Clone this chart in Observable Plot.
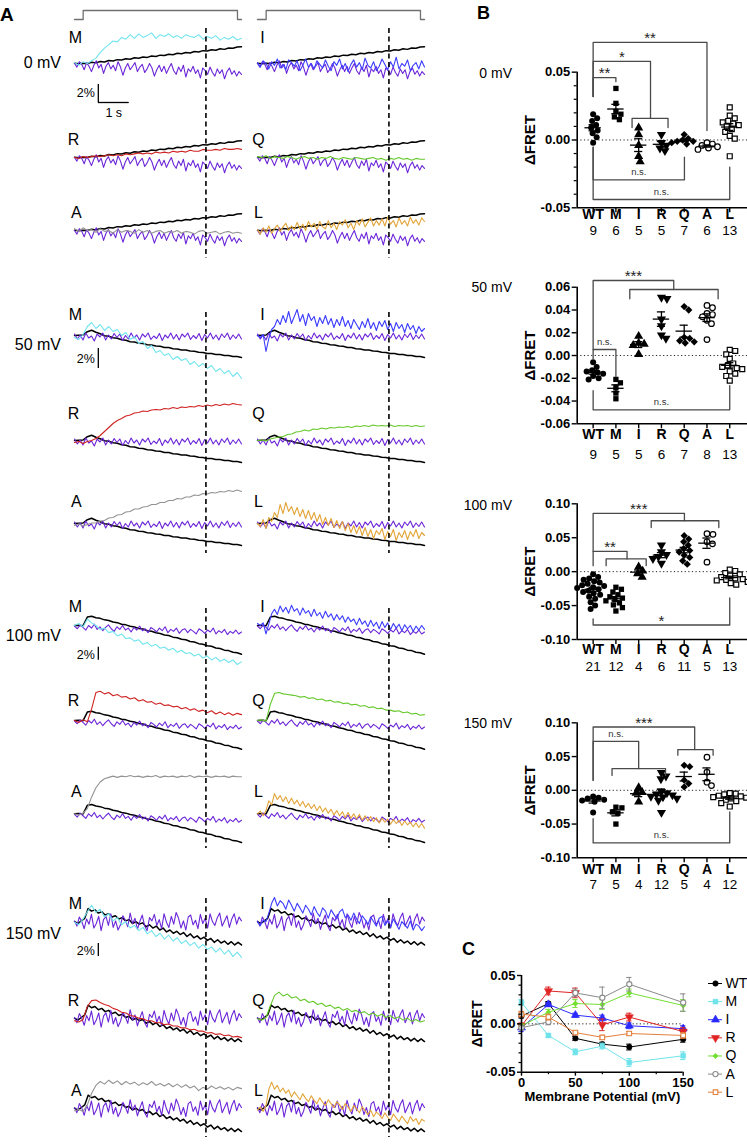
<!DOCTYPE html>
<html>
<head>
<meta charset="utf-8">
<script src="https://cdn.jsdelivr.net/npm/d3@7"></script>
<script src="https://cdn.jsdelivr.net/npm/@observablehq/plot@0.6"></script>
<style>
html, body { margin: 0; padding: 0; background: #fff; }
#page { position: relative; width: 747px; height: 1145px; overflow: hidden; background: #fff;
  font-family: "Liberation Sans", Arial, Helvetica, sans-serif; color: #000; }
.box { position: absolute; }
.box svg { display: block; overflow: visible; }
.lbl { position: absolute; white-space: nowrap; line-height: 1; }
</style>
</head>
<body>
<div id="page"></div>
<script>
// ================= DATA =================
const genotypes = ["WT", "M", "I", "R", "Q", "A", "L"];
const voltageLabels = ["0 mV", "50 mV", "100 mV", "150 mV"];
const traceDuration = 5.4;              // s
const dashTime = 4.25;                  // s
const stimTime = [0, 0.28, 0.28, 5.27, 5.27, 5.4];
const stimLevel = [0, 0, 1, 1, 0, 0];

// ---- Panel A traces (% change) ----
// 0 mV
const wt0 = [0.02,-0.04,0.03,0.0,0.13,0.07,0.23,0.16,0.33,0.27,0.43,0.38,0.53,0.47,0.63,0.58,0.72,0.68,0.83,0.78,0.93,0.88,1.03,0.98,1.13,1.08,1.23,1.17,1.33,1.28,1.43,1.38,1.53,1.48,1.63,1.57,1.73,1.69,1.83,1.86];
const ctrl0 = [0.0,-0.4,0.2,-0.1,-0.7,0.1,-0.3,-0.9,-0.2,0.3,-0.5,-0.1,-1.1,-0.3,0.1,-0.6,-0.2,-0.8,0.2,-0.4,-1.3,-0.5,0.0,-0.7,-0.3,0.1,-0.9,-0.4,-0.1,-1.0,-0.6,0.0,-0.5,-1.4,-0.7,-0.2,-0.9,-0.3,-1.1,-0.5,0.0,-0.8,-1.2,-0.4,-0.9,-0.2,-1.5,-0.6,-0.9,-0.3,-1.1,-0.7,-1.6,-0.5,-0.8,-1.2,-0.4,-1.0,-1.4,-0.6,-1.1,-0.7,-1.7,-0.9,-0.5,-1.2,-0.8,-1.4,-0.9,-1.2];
const m0 = [0.1,-0.2,0.2,0.0,0.3,0.6,1.2,1.7,2.1,2.5,2.4,2.9,2.7,3.2,2.8,3.3,2.9,3.1,3.4,2.8,3.2,3.0,3.3,2.9,3.1,2.8,3.2,3.0,2.9,3.2,2.7,3.0,2.8,3.1,2.6,2.9,2.7,3.0,2.6,2.8];
const r0 = [0.0,-0.1,0.1,0.0,0.1,0.2,0.1,0.2,0.3,0.2,0.3,0.2,0.4,0.3,0.4,0.5,0.4,0.5,0.4,0.6,0.5,0.6,0.5,0.7,0.6,0.7,0.6,0.8,0.7,0.7,0.9,0.8,0.8,0.9,0.8,1.0,0.9,0.9,1.0,0.9];
const a0 = [0.2,-0.1,0.3,0.0,0.1,-0.2,0.2,-0.1,0.0,-0.3,0.1,-0.2,0.0,-0.1,-0.3,0.1,-0.2,0.0,-0.3,-0.1,0.0,-0.3,-0.1,-0.2,0.0,-0.3,-0.1,-0.2,-0.4,-0.1,0.0,-0.3,-0.2,-0.1,-0.4,-0.2,-0.1,-0.3,-0.2,-0.3];
const i0 = [0.1,-0.4,0.3,0.0,-0.6,0.2,-0.2,0.5,-0.5,-0.1,-0.7,0.4,0.1,-0.3,0.3,-0.8,-0.2,0.5,-0.4,0.0,-0.6,0.3,-0.1,-0.5,0.4,-0.3,-0.8,0.2,-0.2,0.5,-0.6,0.0,-0.9,-0.1,0.4,-0.4,0.1,-0.7,0.6,-0.2,-0.5,0.2,-0.8,-0.3,0.5,-0.1,-0.7,0.2,-0.4,0.7,-0.6,0.0,-0.3,0.4,-0.8,-0.2,0.1,-0.6,0.3,-0.4];
const q0 = [0.1,0.0,0.2,-0.1,0.1,0.0,-0.1,0.1,0.0,-0.2,0.0,0.1,-0.1,0.0,-0.2,0.0,-0.1,0.1,-0.1,-0.2,0.0,-0.1,-0.2,0.0,-0.1,-0.2,-0.1,0.0,-0.2,-0.1,-0.3,-0.1,-0.2,0.0,-0.2,-0.1,-0.3,-0.1,-0.2,-0.2];
const l0 = [0.1,-0.4,0.3,-0.2,0.5,-0.3,0.2,0.6,-0.1,0.4,0.8,0.0,0.5,0.1,0.9,0.2,0.7,0.0,1.0,0.4,0.8,0.1,1.0,0.4,0.2,1.1,0.3,0.8,0.1,1.0,0.6,1.2,0.3,0.8,0.1,1.1,0.6,1.3,0.4,0.9,1.4,0.5,1.1,0.6,1.3,0.5,1.5,0.7,1.1,0.4,1.4,0.7,1.1,0.5,1.5,0.8,1.2,0.6,1.4,1.0];
// 50 mV
const wt50 = [0.0,0.03,0.05,0.38,0.52,0.33,0.17,-0.02,-0.08,-0.22,-0.28,-0.42,-0.47,-0.62,-0.65,-0.77,-0.8,-0.92,-0.95,-1.06,-1.08,-1.19,-1.21,-1.32,-1.34,-1.44,-1.46,-1.56,-1.58,-1.68,-1.7,-1.8,-1.81,-1.9,-1.91,-2.0,-2.01,-2.1,-2.1,-2.19];
const ctrl50 = [0.15,-0.35,0.05,-0.45,0.25,-0.25,-0.05,-0.55,0.15,-0.15,0.25,-0.45,0.05,-0.35,0.2,-0.2,0.15,-0.5,0.0,-0.35,0.25,-0.25,0.05,-0.45,0.15,-0.15,0.25,-0.4,-0.05,-0.3,0.2,-0.5,0.05,-0.25,0.25,-0.35,0.1,-0.45,0.15,-0.15,0.25,-0.4,0.0,-0.3,0.2,-0.5,0.1,-0.25,0.25,-0.35,0.05,-0.45,0.15,-0.2,0.25,-0.4,0.05,-0.3,0.15,-0.35];
const m50 = [-0.2,-0.4,0.1,0.9,1.3,0.7,1.1,0.5,0.9,0.4,0.6,0.0,0.3,-0.4,-0.1,-0.8,-0.6,-1.3,-1.0,-1.7,-1.5,-2.0,-1.8,-2.4,-2.1,-2.5,-2.3,-2.9,-2.6,-3.1,-2.8,-3.3,-3.0,-3.6,-3.3,-3.8,-3.5,-4.1,-3.7,-4.3];
const r50 = [-0.2,-0.1,-0.3,-0.1,0.0,0.2,0.5,0.9,1.3,1.7,2.0,2.2,2.45,2.55,2.75,2.8,2.95,2.9,3.05,3.1,3.05,3.2,3.15,3.3,3.2,3.35,3.3,3.4,3.35,3.5,3.4,3.55,3.45,3.6,3.5,3.65,3.55,3.7,3.6,3.55];
const a50 = [-0.2,-0.05,-0.25,-0.1,0.05,0.05,0.25,0.3,0.55,0.6,0.85,0.9,1.15,1.2,1.45,1.45,1.65,1.7,1.9,1.9,2.1,2.1,2.3,2.3,2.5,2.45,2.65,2.65,2.85,2.8,3.0,2.95,3.1,3.05,3.2,3.15,3.3,3.2,3.35,3.2];
const i50 = [0.0,-0.2,0.1,-1.6,-0.3,0.6,0.9,1.6,1.1,2.0,1.3,2.4,1.2,1.9,2.6,1.4,2.1,1.0,2.2,1.5,1.9,0.9,1.8,1.2,2.0,1.1,1.7,0.8,1.6,1.0,1.9,0.9,1.5,0.7,1.6,1.1,0.6,1.4,0.8,1.7,0.7,1.3,0.5,1.4,0.9,1.5,0.6,1.2,0.4,1.3,0.7,1.1,0.3,1.2,0.6,1.0,0.2,0.9,0.4,0.7];
const q50 = [0.0,0.05,-0.05,0.15,0.25,0.35,0.4,0.6,0.65,0.85,0.9,1.05,0.95,1.15,1.1,1.25,1.15,1.3,1.25,1.35,1.3,1.4,1.3,1.45,1.4,1.5,1.4,1.55,1.45,1.5,1.45,1.55,1.4,1.5,1.45,1.5,1.4,1.5,1.4,1.45];
const l50 = [0.0,-0.3,0.4,-0.5,0.6,0.2,1.1,0.6,1.9,1.0,2.1,1.2,1.7,0.9,1.6,0.7,1.4,0.5,1.3,0.4,1.1,0.2,0.9,-0.1,0.6,-0.2,0.5,-0.4,0.3,-0.5,0.2,-0.7,0.0,-0.9,-0.2,-1.0,-0.3,-1.2,-0.4,-1.3,-0.6,-1.5,-0.7,-1.1,-0.5,-1.6,-0.8,-1.3,-0.6,-1.7,-0.9,-1.4,-0.7,-1.6,-0.8,-1.3,-0.6,-1.5,-0.9,-1.2];
// 100 mV
const wt100 = [0.0,0.05,-0.02,1.3,1.42,1.2,1.1,0.87,0.78,0.54,0.44,0.2,0.1,-0.12,-0.22,-0.46,-0.55,-0.8,-0.88,-1.12,-1.22,-1.46,-1.55,-1.79,-1.88,-2.12,-2.2,-2.46,-2.54,-2.79,-2.88,-3.12,-3.2,-3.45,-3.54,-3.79,-3.86,-4.12,-4.2,-4.42];
const ctrl100 = [-0.1,-0.5,0.1,-0.3,-0.7,0.0,-0.4,0.2,-0.6,-0.2,-0.8,-0.3,0.1,-0.5,-0.9,-0.2,-0.6,0.0,-0.7,-0.4,-1.0,-0.3,-0.7,-0.1,-0.8,-0.5,-1.1,-0.3,-0.6,-1.0,-0.4,-0.8,-0.2,-1.1,-0.6,-0.9,-0.4,-1.2,-0.7,-0.5,-1.1,-0.6,-0.9,-1.3,-0.5,-0.8,-1.2,-0.7,-1.0,-0.4,-1.3,-0.8,-1.1,-0.6,-1.4,-0.9,-1.2,-0.7,-1.3,-1.0];
const m100 = [0.0,0.3,-0.2,1.0,0.4,0.0,-0.6,-0.4,-1.1,-0.9,-1.6,-1.3,-2.0,-1.9,-2.4,-2.2,-2.9,-2.6,-3.2,-2.9,-3.5,-3.3,-3.8,-3.5,-4.1,-3.8,-4.3,-4.2,-4.7,-4.4,-5.0,-4.7,-5.3,-4.9,-5.5,-5.2,-5.7,-5.3,-6.0,-5.6];
const r100 = [0.0,-0.3,0.1,-0.2,1.8,4.3,4.5,4.1,4.3,3.8,4.0,3.6,3.7,3.3,3.5,3.0,3.2,2.8,2.9,2.5,2.7,2.3,2.4,2.1,2.2,1.8,2.0,1.6,1.8,1.4,1.6,1.2,1.5,1.0,1.3,0.9,1.2,0.8,1.1,0.9];
const a100 = [0.0,-0.2,0.1,0.8,2.6,4.0,4.9,5.4,5.6,5.8,5.6,5.8,5.7,5.9,5.7,5.8,5.6,5.8,5.7,5.9,5.6,5.8,5.7,5.8,5.6,5.8,5.7,5.9,5.6,5.8,5.7,5.8,5.6,5.8,5.7,5.8,5.6,5.8,5.7,5.7];
const i100 = [0.3,0.0,0.4,-1.3,0.2,1.8,2.5,1.7,3.0,2.1,2.8,1.9,3.1,2.2,2.6,1.6,2.7,1.9,2.3,1.4,2.5,1.5,2.0,1.1,2.2,1.3,1.8,0.8,1.7,0.9,1.5,0.5,1.3,0.6,1.0,0.1,1.1,0.2,0.7,-0.2,0.8,-0.1,0.5,-0.5,0.6,-0.3,0.4,-0.6,0.3,-0.4,0.2,-0.8,0.1,-0.5,0.0,-0.9,-0.1,-0.7,0.0,-0.6];
const q100 = [0.0,0.1,-0.1,2.5,4.2,4.3,4.1,4.0,3.9,3.8,3.6,3.7,3.4,3.5,3.2,3.3,3.0,3.1,2.8,2.9,2.6,2.7,2.4,2.5,2.2,2.3,2.0,2.1,1.8,1.9,1.6,1.6,1.4,1.5,1.2,1.3,1.0,1.1,0.8,0.9];
const l100 = [0.0,0.4,-0.3,0.5,2.0,1.4,3.1,2.2,2.8,1.9,2.6,1.6,2.4,1.5,2.1,1.2,1.9,1.0,1.6,0.8,1.4,0.5,1.2,0.3,0.9,0.1,0.7,-0.2,0.5,-0.3,0.3,-0.6,0.2,-0.7,0.0,-0.8,-0.1,-1.0,-0.3,-1.1,-0.4,-1.2,-0.6,-1.4,-0.7,-1.3,-0.8,-1.6,-0.9,-1.5,-1.0,-1.8,-1.1,-1.7,-1.3,-2.0,-1.4,-2.1,-1.5,-2.2];
// 150 mV
const wt150 = [0.1,-0.2,0.2,0.6,2.1,1.7,1.9,1.4,1.6,1.1,1.3,0.8,1.0,0.5,0.7,0.2,0.4,-0.2,0.1,-0.3,-0.1,-0.7,-0.4,-0.9,-0.6,-1.2,-0.9,-1.5,-1.2,-1.7,-1.4,-1.9,-1.6,-2.2,-1.8,-2.4,-2.1,-2.6,-2.3,-2.8,-2.5,-3.1,-2.7,-3.2,-2.9,-3.4,-3.0,-3.5,-3.1,-3.5];
const ctrl150 = [0.2,-0.6,0.8,0.1,-1.0,0.5,-0.3,1.2,-0.9,-0.2,0.9,-1.3,0.4,0.9,-0.5,1.3,-0.8,0.2,-1.2,-0.4,1.0,0.3,-0.7,1.4,-0.2,0.6,-1.1,0.1,1.1,-0.6,-1.3,0.7,0.2,1.2,-0.5,0.4,-1.0,1.3,0.0,-0.8,0.9,-0.3,1.5,0.6,-0.9,0.2,-1.2,0.8,1.1,-0.4,0.3,-1.0,1.2,-0.2,0.6,-0.9,1.3,0.1,-0.5,0.7,1.4,-0.6,0.2,1.0,-0.8,0.5,1.3,-0.3,0.8,0.2];
const m150 = [0.0,-0.4,0.5,1.6,2.6,1.5,2.0,0.8,1.3,0.2,0.7,-0.4,0.1,-0.9,-0.5,-1.3,-0.8,-1.8,-1.3,-2.2,-1.7,-2.6,-2.0,-2.9,-2.4,-3.3,-2.8,-3.6,-3.1,-4.0,-3.4,-4.2,-3.8,-4.6,-4.0,-4.9,-4.3,-5.3,-4.6,-5.4];
const r150 = [-0.3,-0.5,-0.1,1.9,2.8,2.9,2.5,2.2,2.0,1.6,1.4,1.0,0.9,0.5,0.4,0.1,0.0,-0.3,-0.3,-0.6,-0.6,-0.9,-0.8,-1.1,-1.1,-1.4,-1.4,-1.7,-1.6,-1.9,-1.9,-2.2,-2.1,-2.4,-2.3,-2.6,-2.5,-2.8,-2.7,-2.9];
const a150 = [-0.3,-0.1,-0.4,0.6,2.4,3.6,4.2,3.8,4.4,3.9,4.3,3.7,4.2,3.8,4.1,3.6,4.0,3.7,4.2,3.6,3.9,3.5,3.9,3.4,3.8,3.3,3.7,3.2,3.5,2.8,3.3,3.0,3.5,3.1,3.4,3.0,3.3,2.9,3.3,3.1];
const i150 = [0.0,-0.5,0.3,0.1,1.4,2.9,3.8,2.5,3.3,2.9,2.0,3.4,2.6,1.7,2.9,2.2,1.4,2.6,2.0,1.1,2.4,1.5,0.9,2.2,1.7,0.6,1.9,1.2,0.5,1.6,2.0,0.7,1.1,0.3,1.4,0.5,-0.2,1.0,0.4,-0.4,0.8,0.1,-0.6,0.6,0.9,-0.5,0.2,-0.8,0.5,-0.3,-1.1,0.1,-0.4,-0.9,0.2,-1.2,-0.3,-0.6,-1.3,-0.7];
const q150 = [0.0,-0.2,0.2,2.0,3.6,4.1,3.5,3.8,3.2,3.4,2.8,3.0,2.5,2.7,2.2,2.4,1.9,2.1,1.6,1.8,1.3,1.6,1.1,1.3,0.9,1.1,0.6,0.9,0.4,0.7,0.2,0.5,0.0,0.3,-0.2,0.1,-0.4,-0.1,-0.5,-0.3];
const l150 = [-0.2,0.3,-0.4,0.5,3.0,4.1,3.0,3.6,2.6,3.2,2.4,2.9,1.8,2.6,2.0,1.4,2.3,1.6,1.1,2.0,1.3,0.8,1.7,1.0,0.5,1.4,0.8,0.2,1.1,0.6,-0.1,0.8,0.3,-0.4,0.5,0.0,-0.6,0.3,-0.3,-0.9,-0.2,-1.2,-0.5,-0.9,-1.5,-0.6,-1.3,-1.8,-0.8,-1.4,-2.0,-1.1,-1.7,-2.3,-1.2,-1.9,-1.5,-2.4,-1.6,-1.9];

// ---- Panel B: ΔFRET per cell, in genotype order ----
const fret0 = [
  [0.019, 0.016, 0.014, 0.011, 0.009, 0.007, 0.005, 0.002, -0.002],
  [0.038, 0.027, 0.021, 0.019, 0.017, 0.015],
  [0.009, 0.004, -0.004, -0.012, -0.016],
  [0.004, -0.002, -0.004, -0.006, -0.008],
  [0.004, 0.001, 0.0, -0.001, -0.001, -0.002, -0.003],
  [-0.002, -0.003, -0.004, -0.005, -0.006, -0.007],
  [0.024, 0.018, 0.016, 0.014, 0.013, 0.012, 0.011, 0.010, 0.008, 0.006, 0.003, 0.001, -0.012]
];
const fret50 = [
  [-0.006, -0.010, -0.013, -0.014, -0.015, -0.016, -0.018, -0.020, -0.021],
  [-0.021, -0.024, -0.028, -0.033, -0.038],
  [0.017, 0.011, 0.010, 0.009, 0.001],
  [0.051, 0.050, 0.032, 0.026, 0.018, 0.015],
  [0.043, 0.040, 0.016, 0.015, 0.013, 0.012, 0.011],
  [0.044, 0.042, 0.037, 0.036, 0.034, 0.031, 0.028, 0.014],
  [0.005, 0.004, 0.001, -0.003, -0.007, -0.009, -0.010, -0.011, -0.012, -0.014, -0.016, -0.018, -0.022]
];
const fret100 = [
  [-0.004, -0.008, -0.010, -0.012, -0.014, -0.016, -0.018, -0.020, -0.021, -0.023, -0.024, -0.026, -0.028, -0.030, -0.032, -0.034, -0.037, -0.040, -0.045, -0.050, -0.055],
  [-0.023, -0.026, -0.030, -0.034, -0.037, -0.039, -0.041, -0.043, -0.046, -0.049, -0.053, -0.058],
  [0.007, 0.001, -0.003, -0.008],
  [0.039, 0.029, 0.025, 0.022, 0.019, 0.012],
  [0.053, 0.048, 0.044, 0.039, 0.034, 0.031, 0.029, 0.024, 0.021, 0.016, 0.011],
  [0.056, 0.055, 0.044, 0.041, 0.014],
  [0.003, 0.001, -0.002, -0.004, -0.006, -0.008, -0.010, -0.011, -0.012, -0.013, -0.015, -0.017, -0.019]
];
const fret150 = [
  [-0.009, -0.011, -0.012, -0.014, -0.015, -0.017, -0.033],
  [-0.025, -0.026, -0.032, -0.034, -0.050],
  [0.004, -0.003, -0.004, -0.017],
  [0.026, 0.021, 0.017, -0.002, -0.004, -0.006, -0.007, -0.009, -0.010, -0.012, -0.015, -0.033],
  [0.037, 0.035, 0.015, 0.010, 0.005],
  [0.049, 0.027, 0.012, 0.007],
  [-0.004, -0.005, -0.006, -0.008, -0.009, -0.010, -0.011, -0.012, -0.014, -0.016, -0.019, -0.024]
];
// significance brackets: [from index, to index, bar level, left leg end, right leg end, label]
const sig0 = [[0,5,0.0719,0.032,0.007,"**"],[0,2.52,0.0579,0.032,0.0159,"*"],[1.71,3.29,0.0159,0.0092,0.0092,""],[0,1,0.046,0.032,0.043,"**"],[0,4.01,-0.0294,-0.0053,-0.0127,"n.s."],[0,6,-0.0439,-0.0053,-0.020,"n.s."]];
const sig50 = [[0,3.54,0.0659,0.0053,0.058,"***"],[1.61,5.49,0.058,0.0498,0.0498,""],[0,1,0.0053,-0.0029,-0.0185,"n.s."],[0,6,-0.0477,-0.0308,-0.0264,"n.s."]];
const sig100 = [[0,4.01,0.086,0.030,0.075,"***"],[2.55,5.52,0.075,0.065,0.065,""],[0,1.49,0.030,0.0088,0.0187,"**"],[0.57,2.33,0.0187,0.0088,0.0088,""],[0,6,-0.0786,-0.0698,-0.0388,"*"]];
const sig150 = [[0,4.46,0.0938,0.0148,0.0603,"***"],[3.72,5.27,0.0603,0.052,0.052,""],[0,2.0,0.0726,0.0148,0.032,"n.s."],[0.83,3.18,0.032,0.022,0.022,""],[0,6,-0.078,-0.042,-0.032,"n.s."]];

// ---- Panel C: mean ± SEM vs membrane potential ----
const cPotential = [0, 25, 50, 75, 100, 150];
const cMean = [
  [0.008, 0.021, -0.015, -0.021, -0.024, -0.016],
  [0.022, -0.012, -0.029, -0.023, -0.040, -0.033],
  [-0.004, 0.020, 0.009, 0.006, -0.002, -0.005],
  [-0.002, 0.034, 0.032, -0.001, 0.007, -0.008],
  [-0.002, 0.012, 0.021, 0.020, 0.032, 0.019],
  [-0.004, 0.002, 0.032, 0.027, 0.041, 0.022],
  [0.010, 0.007, -0.009, -0.014, -0.010, -0.012]
];
const cSem = [
  [0.002, 0.002, 0.002, 0.002, 0.003, 0.003],
  [0.003, 0.002, 0.003, 0.003, 0.004, 0.004],
  [0.004, 0.002, 0.002, 0.003, 0.003, 0.003],
  [0.003, 0.004, 0.005, 0.006, 0.004, 0.004],
  [0.002, 0.003, 0.004, 0.005, 0.004, 0.006],
  [0.002, 0.003, 0.004, 0.011, 0.007, 0.009],
  [0.003, 0.003, 0.002, 0.002, 0.002, 0.003]
];

// ================= RENDERING =================
const FONT = '"Liberation Sans", Arial, Helvetica, sans-serif';
const STYLE = {background: "transparent", fontFamily: FONT, overflow: "visible", color: "#000"};
const page = document.getElementById("page");
function place(node, left, top) {
  const d = document.createElement("div");
  d.className = "box"; d.style.left = left + "px"; d.style.top = top + "px";
  d.appendChild(node); page.appendChild(d);
}
function label(text, x, y, {size = 14, weight = "normal", anchor = "left"} = {}) {
  const d = document.createElement("div");
  d.className = "lbl"; d.textContent = text;
  d.style.fontSize = size + "px"; d.style.fontWeight = weight;
  d.style.left = x + "px"; d.style.top = y + "px";
  const tx = anchor === "left" ? "0" : anchor === "right" ? "-100%" : "-50%";
  d.style.transform = `translate(${tx},-50%)`;
  page.appendChild(d);
}

const PURPLE = "#6b26d8";
const traceColor = {M: "#72e4ee", R: "#cf2222", A: "#939393", I: "#3c3cff", Q: "#66c82c", L: "#e2a53a"};

const groupTraces = [
  {wt: wt0, ctrl: ctrl0, left: [m0, r0, a0], right: [i0, q0, l0]},
  {wt: wt50, ctrl: ctrl50, left: [m50, r50, a50], right: [i50, q50, l50]},
  {wt: wt100, ctrl: ctrl100, left: [m100, r100, a100], right: [i100, q100, l100]},
  {wt: wt150, ctrl: ctrl150, left: [m150, r150, a150], right: [i150, q150, l150]}
];
const groupLayout = [
  {k: 9,   base: [63, 157, 230],        top: 22,  bottom: 262,  dash: [28, 258],   lab: [-26, -18, -18],     bar: 84,    barLab: 92,  sec: 112, vy: 62.5},
  {k: 10,  base: [335, 440, 523],       top: 296, bottom: 560,  dash: [312, 553],  lab: [-21, -27, -22],     bar: 348,   barLab: 358, vy: 344.5},
  {k: 6.5, base: [625, 720, 813.3],     top: 592, bottom: 856,  dash: [608, 848],  lab: [-18.5, -20, -22],   bar: 646.7, barLab: 654, vy: 636},
  {k: 6.5, base: [921.7, 1018.3, 1108.3], top: 884, bottom: 1145, dash: [898, 1137], lab: [-18, -18, -18],  bar: 943,   barLab: 950, vy: 933.5}
];
const colNames = [["M", "R", "A"], ["I", "Q", "L"]];
const colBox = [{left: 0, width: 250, ml: 74, mr: 9}, {left: 250, width: 180, ml: 7, mr: 6}];
const labT = [[0.03, -0.03, 0.06], [0.16, 0.03, 0.03]];

function tracePlot(gi, col) {
  const L = groupLayout[gi], T = groupTraces[gi], B = colBox[col];
  const b0 = L.base[0];
  const toV = px => (b0 - px) / L.k;
  const off = L.base.map(b => toV(b));
  const names = colNames[col];
  const series = col === 0 ? T.left : T.right;
  const line = (arr, o, stroke, sw) => Plot.line(arr, {
    x: (d, i) => i * traceDuration / (arr.length - 1), y: d => d + o, stroke, strokeWidth: sw
  });
  const marks = [];
  names.forEach((n, r) => {
    marks.push(line(T.wt, off[r], "#000", 1.5));
    marks.push(line(T.ctrl, off[r], PURPLE, 1.1));
    marks.push(line(series[r], off[r], traceColor[n], 1.1));
  });
  marks.push(Plot.ruleX([dashTime], {y1: toV(L.dash[0]), y2: toV(L.dash[1]), stroke: "#000", strokeWidth: 1.6, strokeDasharray: "5,3.5"}));
  marks.push(Plot.text(names, {x: (d, i) => labT[col][i], y: (d, i) => off[i] - L.lab[i] / L.k, text: d => d, fontSize: 16, fill: "#000"}));
  if (col === 0) {
    const yb = toV(L.bar);
    marks.push(Plot.ruleX([0.77], {y1: yb, y2: yb - 2, stroke: "#000", strokeWidth: 1.3}));
    marks.push(Plot.text(["2%"], {x: 0.66, y: toV(L.barLab), textAnchor: "end", fontSize: 12.5, fill: "#000"}));
    if (L.sec) {
      marks.push(Plot.ruleY([yb - 2], {x1: 0.77, x2: 1.77, stroke: "#000", strokeWidth: 1.3}));
      marks.push(Plot.text(["1 s"], {x: 1.27, y: toV(L.sec), fontSize: 12.5, fill: "#000"}));
    }
  }
  const svg = Plot.plot({
    width: B.width, height: L.bottom - L.top,
    marginLeft: B.ml, marginRight: B.mr, marginTop: 0, marginBottom: 0,
    x: {domain: [0, traceDuration], axis: null},
    y: {domain: [toV(L.bottom), toV(L.top)], axis: null},
    style: STYLE, marks
  });
  place(svg, B.left, L.top);
}

function stimPlot(col) {
  const B = colBox[col];
  const svg = Plot.plot({
    width: B.width, height: 16, marginLeft: B.ml, marginRight: B.mr, marginTop: 0, marginBottom: 0,
    x: {domain: [0, traceDuration], axis: null},
    y: {domain: [0, 1], range: [12, 3], axis: null},
    style: STYLE,
    marks: [Plot.line(stimLevel, {x: (d, i) => stimTime[i], y: d => d, stroke: "#707070", strokeWidth: 1.3})]
  });
  place(svg, B.left, 7);
}

// ---- Panel B ----
const triDown = {
  draw(context, size) {
    const y = -Math.sqrt(size / (Math.sqrt(3) * 3));
    context.moveTo(0, -y * 2);
    context.lineTo(-Math.sqrt(3) * y, y);
    context.lineTo(Math.sqrt(3) * y, y);
    context.closePath();
  }
};
const dotStyle = [
  {symbol: "circle", r: 3, fill: "#000", stroke: "none", sw: 0},
  {symbol: "square", r: 3, fill: "#000", stroke: "none", sw: 0},
  {symbol: "triangle", r: 3.4, fill: "#000", stroke: "none", sw: 0},
  {symbol: triDown, r: 3.4, fill: "#000", stroke: "none", sw: 0},
  {symbol: "diamond2", r: 3.3, fill: "#000", stroke: "none", sw: 0},
  {symbol: "circle", r: 2.8, fill: "#fff", stroke: "#000", sw: 1.2},
  {symbol: "square", r: 2.8, fill: "#fff", stroke: "#000", sw: 1.2}
];
function swarm(values, pxPerY, diam) {
  const idx = values.map((v, i) => i).sort((a, b) => values[b] - values[a]);
  const placed = [], out = new Array(values.length).fill(0);
  for (const i of idx) {
    const py = values[i] * pxPerY;
    for (let k = 0; k < 400; k++) {
      const c = k === 0 ? 0 : (k % 2 ? 1 : -1) * Math.ceil(k / 2) * 0.5;
      if (placed.every(p => (p.x - c) ** 2 + (p.y - py) ** 2 >= diam * diam)) {
        out[i] = c; placed.push({x: c, y: py}); break;
      }
    }
  }
  return out;
}
const bLayout = [
  {vals: fret0, sig: sig0, top: 25, frameH: 182.3, yMin: -0.05, yMax: 0.0844, axisTop: 0.05, ticks: [-0.05, 0, 0.05], minor: true, labDy: 11, cntDy: 27.7, mb: 40, vy: 72.5},
  {vals: fret50, sig: sig50, top: 265, frameH: 158.3, yMin: -0.06, yMax: 0.0791, axisTop: 0.06, ticks: [-0.06, -0.04, -0.02, 0, 0.02, 0.04, 0.06], labDy: 15, cntDy: 35, mb: 45, vy: 287},
  {vals: fret100, sig: sig100, top: 497, frameH: 142, yMin: -0.1, yMax: 0.1093, axisTop: 0.1, ticks: [-0.1, -0.05, 0, 0.05, 0.1], labDy: 14.3, cntDy: 31, mb: 40, vy: 505},
  {vals: fret150, sig: sig150, top: 712, frameH: 145.3, yMin: -0.1, yMax: 0.1153, axisTop: 0.1, ticks: [-0.1, -0.05, 0, 0.05, 0.1], labDy: 16, cntDy: 31, mb: 40, vy: 723}
];
function bPlot(c) {
  const W = 297, ML = 126.7;
  const xDom = [-0.7, 6.78];
  const pxX = (W - ML) / (xDom[1] - xDom[0]);
  const pxY = c.frameH / (c.yMax - c.yMin);
  const marks = [];
  marks.push(Plot.ruleY([0], {x1: xDom[0], x2: xDom[1], stroke: "#222", strokeWidth: 1, strokeDasharray: "1.2,2.4"}));
  c.vals.forEach((vals, gi) => {
    const off = swarm(vals, pxY, 5.6);
    const pts = vals.map((v, j) => ({x: gi + off[j] / pxX, y: v}));
    const st = dotStyle[gi];
    marks.push(Plot.dot(pts, {x: "x", y: "y", symbol: st.symbol, r: st.r, fill: st.fill, stroke: st.stroke, strokeWidth: st.sw}));
  });
  const stats = c.vals.map((vals, gi) => ({gi, m: d3.mean(vals), s: d3.deviation(vals) / Math.sqrt(vals.length)}));
  marks.push(Plot.ruleY(stats, {y: "m", x1: d => d.gi - 0.36, x2: d => d.gi + 0.36, stroke: "#000", strokeWidth: 1.3}));
  marks.push(Plot.ruleX(stats, {x: "gi", y1: d => d.m - d.s, y2: d => d.m + d.s, stroke: "#000", strokeWidth: 1.3}));
  marks.push(Plot.ruleY(stats, {y: d => d.m + d.s, x1: d => d.gi - 0.18, x2: d => d.gi + 0.18, stroke: "#000", strokeWidth: 1.3}));
  marks.push(Plot.ruleY(stats, {y: d => d.m - d.s, x1: d => d.gi - 0.18, x2: d => d.gi + 0.18, stroke: "#000", strokeWidth: 1.3}));
  const br = c.sig.flatMap((s, k) => [{k, x: s[0], y: s[3]}, {k, x: s[0], y: s[2]}, {k, x: s[1], y: s[2]}, {k, x: s[1], y: s[4]}]);
  marks.push(Plot.line(br, {x: "x", y: "y", z: "k", stroke: "#4a4a4a", strokeWidth: 1.3}));
  const stars = c.sig.filter(s => s[5] && s[5] !== "n.s.");
  const ns = c.sig.filter(s => s[5] === "n.s.");
  marks.push(Plot.text(stars, {x: s => (s[0] + s[1]) / 2, y: s => s[2], text: s => s[5], dy: -4, fontSize: 15, fill: "#222"}));
  marks.push(Plot.text(ns, {x: s => (s[0] + s[1]) / 2, y: s => s[2], text: s => s[5], dy: -7.5, fontSize: 9.5, fill: "#333"}));
  // axes
  marks.push(Plot.ruleX([xDom[0]], {y1: c.yMin, y2: c.axisTop, stroke: "#000", strokeWidth: 1.6}));
  marks.push(Plot.ruleY([c.yMin], {x1: xDom[0], x2: xDom[1], stroke: "#000", strokeWidth: 1.6}));
  marks.push(Plot.axisY({ticks: c.ticks, tickSize: 5, tickPadding: 2, tickFormat: d => d.toFixed(2), fontSize: 13, fontWeight: "bold", strokeWidth: 1.4, label: null}));
  if (c.minor) {
    const minor = d3.range(-4, 5).filter(v => v !== 0).map(v => v / 100);
    marks.push(Plot.axisY({ticks: minor, tickSize: 3, tickFormat: () => "", strokeWidth: 1.2, label: null}));
  }
  marks.push(Plot.axisX({ticks: d3.range(7), tickSize: 5, tickFormat: () => "", strokeWidth: 1.4, label: null}));
  marks.push(Plot.text(d3.range(7), {x: d => d, frameAnchor: "bottom", dy: c.labDy, text: i => genotypes[i], fontSize: 14, fontWeight: "bold", fill: "#000"}));
  marks.push(Plot.text(d3.range(7), {x: d => d, frameAnchor: "bottom", dy: c.cntDy, text: i => String(c.vals[i].length), fontSize: 13.5, fill: "#000"}));
  marks.push(Plot.text(["ΔFRET"], {x: xDom[0], y: 0, dx: -47, rotate: -90, fontSize: 15, fontWeight: "bold", fill: "#000"}));
  const svg = Plot.plot({
    width: W, height: c.frameH + c.mb, marginLeft: ML, marginRight: 0, marginTop: 0, marginBottom: c.mb,
    x: {domain: xDom, axis: null}, y: {domain: [c.yMin, c.yMax], axis: null},
    style: STYLE, marks
  });
  place(svg, 450, c.top);
}

// ---- Panel C ----
const cColors = ["#000000", "#6fe3ea", "#2a2aff", "#e02323", "#72df30", "#8a8a8a", "#e2803c"];
const cStyle = [
  {symbol: "circle", r: 2.7, open: false},
  {symbol: "square", r: 2.7, open: false},
  {symbol: "triangle", r: 3, open: false},
  {symbol: triDown, r: 3, open: false},
  {symbol: "diamond2", r: 2.4, open: false},
  {symbol: "circle", r: 2.6, open: true},
  {symbol: "square", r: 2.6, open: true}
];
function cPlot() {
  const marks = [];
  marks.push(Plot.ruleY([0], {x1: 0, x2: 150, stroke: "#222", strokeWidth: 1, strokeDasharray: "1.2,2.4"}));
  genotypes.forEach((g, si) => {
    const col = cColors[si], st = cStyle[si];
    const pts = cPotential.map((x, j) => ({x, y: cMean[si][j], e: cSem[si][j]}));
    marks.push(Plot.ruleX(pts, {x: "x", y1: d => d.y - d.e, y2: d => d.y + d.e, stroke: col, strokeWidth: 1}));
    marks.push(Plot.ruleY(pts, {y: d => d.y + d.e, x1: d => d.x - 2.5, x2: d => d.x + 2.5, stroke: col, strokeWidth: 1}));
    marks.push(Plot.ruleY(pts, {y: d => d.y - d.e, x1: d => d.x - 2.5, x2: d => d.x + 2.5, stroke: col, strokeWidth: 1}));
    marks.push(Plot.line(pts, {x: "x", y: "y", stroke: col, strokeWidth: 1}));
    marks.push(Plot.dot(pts, {x: "x", y: "y", symbol: st.symbol, r: st.r, fill: st.open ? "#fff" : col, stroke: col, strokeWidth: st.open ? 1.1 : 0.6}));
  });
  marks.push(Plot.ruleX([0], {y1: -0.05, y2: 0.05, stroke: "#000", strokeWidth: 1.6}));
  marks.push(Plot.ruleY([-0.05], {x1: 0, x2: 150, stroke: "#000", strokeWidth: 1.6}));
  marks.push(Plot.axisY({ticks: [-0.05, 0, 0.05], tickSize: 4, tickPadding: 2, tickFormat: d => d.toFixed(2), fontSize: 13, fontWeight: "bold", strokeWidth: 1.4, label: null}));
  marks.push(Plot.axisY({ticks: d3.range(-4, 5).filter(v => v !== 0).map(v => v / 100), tickSize: 2.5, tickFormat: () => "", strokeWidth: 1.2, label: null}));
  marks.push(Plot.axisX({ticks: [0, 50, 100, 150], tickSize: 4, tickPadding: 2, tickFormat: d => String(d), fontSize: 13, fontWeight: "bold", strokeWidth: 1.4, label: null}));
  marks.push(Plot.axisX({ticks: [25, 75, 125], tickSize: 2.5, tickFormat: () => "", strokeWidth: 1.2, label: null}));
  marks.push(Plot.text(["Membrane Potential (mV)"], {frameAnchor: "bottom", dy: 29, fontSize: 13, fontWeight: "bold", fill: "#000"}));
  marks.push(Plot.text(["ΔFRET"], {x: 0, y: 0, dx: -44, rotate: -90, fontSize: 14, fontWeight: "bold", fill: "#000"}));
  const svg = Plot.plot({
    width: 240, height: 10 + 96.7 + 42, marginLeft: 71, marginRight: 7.3, marginTop: 10, marginBottom: 42,
    x: {domain: [0, 150], axis: null}, y: {domain: [-0.05, 0.05], axis: null},
    style: STYLE, marks
  });
  place(svg, 450, 965);
}
function legendPlot() {
  const marks = [];
  genotypes.forEach((g, i) => {
    const st = cStyle[i], col = cColors[i];
    marks.push(Plot.ruleY([i], {x1: 0, x2: 1, stroke: col, strokeWidth: 1}));
    marks.push(Plot.dot([i], {x: 0.5, y: d => d, symbol: st.symbol, r: st.r, fill: st.open ? "#fff" : col, stroke: col, strokeWidth: st.open ? 1.1 : 0.6}));
  });
  marks.push(Plot.text(genotypes, {x: 1, y: (d, i) => i, text: d => d, dx: 3, textAnchor: "start", fontSize: 14, fill: "#000"}));
  const svg = Plot.plot({
    width: 47, height: 125, marginLeft: 0, marginRight: 0, marginTop: 0, marginBottom: 0,
    x: {domain: [0, 1], range: [8, 22], axis: null},
    y: {domain: [0, 6], range: [8, 116.7], axis: null},
    style: STYLE, marks
  });
  place(svg, 700, 975);
}

// ---- build ----
stimPlot(0); stimPlot(1);
for (let g = 0; g < 4; g++) { tracePlot(g, 0); tracePlot(g, 1); }
bLayout.forEach(bPlot);
cPlot();
legendPlot();

label("A", 0, 14, {size: 19, weight: "bold"});
label("B", 477, 12.5, {size: 18, weight: "bold"});
label("C", 462, 948.5, {size: 18, weight: "bold"});
voltageLabels.forEach((v, i) => label(v, 61, groupLayout[i].vy, {size: 16, anchor: "right"}));
voltageLabels.forEach((v, i) => label(v, 512, bLayout[i].vy, {size: 14, anchor: "right"}));
</script>
</body>
</html>
